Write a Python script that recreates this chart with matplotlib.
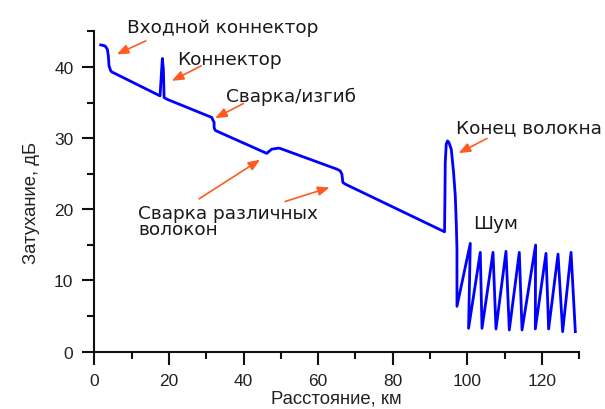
import matplotlib
matplotlib.use("Agg")
import matplotlib.pyplot as plt
from matplotlib.ticker import MultipleLocator

# OTDR trace: distance (km) vs attenuation (dB)
dist = [1.72, 2.87, 3.49, 3.76, 3.94, 4.40, 4.67,
        17.62, 17.97, 18.24, 18.51, 18.70, 19.42,
        31.49, 31.76, 32.11, 32.11, 32.38, 32.65,
        46.24, 46.67, 47.59, 49.36, 49.81,
        65.02, 65.91, 66.36, 66.63, 67.25,
        93.88, 93.99, 94.07, 94.34, 94.69, 95.07, 95.68, 96.30, 96.76, 97.02, 97.21, 97.21,
        100.78, 100.32, 103.46, 103.92, 106.87, 107.67, 110.35, 111.24, 113.92, 114.65,
        118.29, 118.21, 121.08, 121.78, 124.30, 125.54, 127.79, 128.94]
atten = [43.09, 42.95, 42.48, 41.54, 40.14, 39.44, 39.30,
         35.93, 38.98, 41.18, 39.68, 35.71, 35.47,
         32.90, 32.56, 32.19, 31.49, 31.12, 31.02,
         27.85, 28.07, 28.45, 28.59, 28.55,
         25.64, 25.40, 24.94, 23.77, 23.54,
         16.84, 21.89, 26.58, 29.15, 29.61, 29.36, 28.45, 25.18, 21.89, 18.16, 14.41, 6.37,
         15.21, 3.28, 13.95, 3.28, 13.95, 3.19, 14.09, 3.05, 13.95, 3.05,
         14.98, 3.19, 13.81, 3.19, 13.71, 2.81, 13.95, 2.81]

# event labels: (text, x, baseline y of last line)
labels = [("Входной коннектор", 8.77, 44.97),
          ("Коннектор", 22.1, 40.35),
          ("Сварка/изгиб", 35.25, 35.23),
          ("Конец волокна", 97.0, 30.79),
          ("Шум", 101.66, 17.32),
          ("Сварка различных\nволокон", 11.8, 16.55)]

# arrows: (tail, head)
arrows = [((13.79, 43.65), (6.01, 41.78)),
          ((28.62, 40.14), (20.76, 38.04)),
          ((39.97, 34.86), (32.38, 32.80)),
          ((28.09, 21.47), (44.45, 26.97)),
          ((51.15, 21.10), (63.07, 23.07)),
          ((105.26, 29.95), (97.64, 27.89))]

fig = plt.figure(figsize=(6.05, 4.10), dpi=100)
ax = fig.add_axes([0.1559, 0.1398, 0.8016, 0.7814])

ax.plot(dist, atten, color="#0000ff", lw=2.0, solid_joinstyle="round")

ax.set_xlim(0, 130)
ax.set_ylim(0, 45)
ax.xaxis.set_major_locator(MultipleLocator(20))
ax.xaxis.set_minor_locator(MultipleLocator(10))
ax.yaxis.set_major_locator(MultipleLocator(10))
ax.yaxis.set_minor_locator(MultipleLocator(5))

for side in ("top", "right"):
    ax.spines[side].set_visible(False)
for side in ("left", "bottom"):
    ax.spines[side].set_linewidth(1.5)
    ax.spines[side].set_color("#111111")

ax.tick_params(which="major", length=9, width=1.5, pad=6, color="#111111",
               labelsize=12.5, labelcolor="#222222", labelfontfamily="Liberation Sans")
ax.tick_params(which="minor", length=5, width=1.5, color="#111111")

ax.set_xlabel("Расстояние, км", fontsize=13.3, family="Liberation Sans", color="#222222")
ax.set_ylabel("Затухание, дБ", fontsize=13.3, family="Liberation Sans", color="#222222")
ax.xaxis.set_label_coords(0.4998, -0.118)
ax.yaxis.set_label_coords(-0.112, 0.467)

for txt, x, y in labels:
    ax.text(x, y, txt, fontsize=13.3, family="DejaVu Sans", color="#1a1a1a",
            ha="left", va="baseline", linespacing=0.87, clip_on=False)

for tail, head in arrows:
    ax.annotate("", xy=head, xytext=tail,
                arrowprops=dict(arrowstyle="-|>,head_length=0.7,head_width=0.28",
                                color="#ff5a1f", lw=1.2, shrinkA=0, shrinkB=0),
                annotation_clip=False)

fig.savefig("out.png", dpi=100, facecolor="white")
